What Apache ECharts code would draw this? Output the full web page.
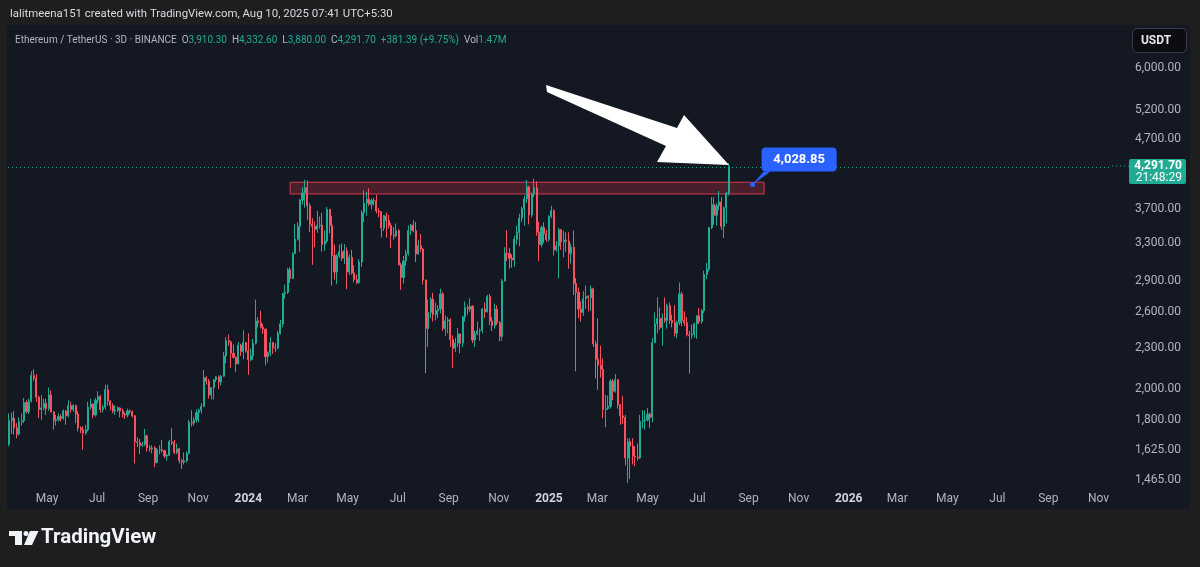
<!DOCTYPE html>
<html><head><meta charset="utf-8">
<script src="https://cdn.jsdelivr.net/npm/echarts@6/dist/echarts.min.js"></script>
<style>html,body{margin:0;padding:0;background:#1e1e1e;}#c{width:1200px;height:567px;}</style>
</head><body><div id="c"></div>
<script>
// ---------- data ----------
const startDate = '2023-03-16';   // first 3D candle
const stepDays = 3;
// [open, high, low, close]
const candles = [
[1655,1840,1645,1795],[1795,1845,1715,1810],[1810,1855,1710,1750],[1750,1780,1690,1715],[1715,1815,1705,1790],
[1790,1840,1765,1795],[1795,1940,1780,1910],[1910,1925,1840,1850],[1850,1935,1835,1920],[1920,2125,1910,2095],
[2095,2140,2055,2075],[2075,2105,1915,1945],[1945,1955,1810,1865],[1865,1960,1800,1875],[1875,1935,1860,1905],
[1905,1935,1830,1870],[1870,2010,1855,1960],[1960,1990,1845,1850],[1850,1855,1740,1795],[1795,1830,1765,1800],
[1800,1840,1790,1820],[1820,1835,1790,1810],[1810,1865,1800,1855],[1855,1860,1770,1825],[1825,1925,1815,1890],
[1890,1915,1845,1865],[1865,1900,1850,1890],[1890,1895,1780,1835],[1835,1855,1730,1750],[1750,1760,1720,1740],
[1740,1760,1625,1720],[1720,1770,1710,1740],[1740,1915,1730,1880],[1880,1935,1865,1900],[1900,1905,1810,1830],
[1830,1940,1820,1925],[1925,1985,1905,1950],[1950,1960,1845,1865],[1865,1895,1845,1880],[1880,2030,1865,1995],
[1995,2030,1890,1920],[1920,1925,1860,1890],[1890,1905,1840,1855],[1855,1890,1830,1860],[1860,1885,1850,1875],
[1875,1880,1815,1855],[1855,1870,1815,1835],[1835,1845,1805,1830],[1830,1870,1815,1855],[1855,1865,1840,1850],
[1850,1860,1815,1825],[1825,1830,1550,1670],[1670,1695,1640,1665],[1665,1685,1600,1650],[1650,1670,1640,1655],
[1655,1745,1645,1705],[1705,1710,1615,1635],[1635,1650,1615,1630],[1630,1650,1605,1635],[1635,1645,1530,1555],
[1555,1635,1550,1625],[1625,1650,1600,1625],[1625,1680,1610,1620],[1620,1625,1580,1590],[1590,1600,1565,1595],
[1595,1680,1590,1670],[1670,1750,1650,1665],[1665,1680,1600,1610],[1610,1660,1600,1630],[1630,1635,1550,1565],
[1565,1575,1521,1558],[1558,1610,1545,1565],[1565,1615,1555,1605],[1605,1800,1600,1785],[1785,1860,1760,1780],
[1780,1815,1765,1800],[1800,1865,1785,1845],[1845,1870,1785,1860],[1860,1905,1840,1885],[1885,2135,1880,2080],
[2080,2090,2030,2055],[2055,2070,1935,1960],[1960,2010,1930,2010],[2010,2070,1930,2065],[2065,2090,2050,2085],
[2085,2095,2000,2050],[2050,2100,2025,2090],[2090,2270,2085,2240],[2240,2390,2185,2360],[2360,2410,2320,2350],
[2350,2360,2150,2260],[2260,2330,2220,2230],[2230,2235,2120,2180],[2180,2350,2175,2325],[2325,2335,2240,2275],
[2275,2445,2215,2345],[2345,2350,2265,2280],[2280,2420,2100,2210],[2210,2295,2200,2240],[2240,2375,2210,2340],
[2340,2717,2330,2525],[2525,2560,2470,2510],[2510,2615,2460,2470],[2470,2500,2415,2455],[2455,2460,2170,2235],
[2235,2275,2190,2265],[2265,2390,2240,2345],[2345,2350,2255,2305],[2305,2340,2270,2300],[2300,2440,2290,2420],
[2420,2535,2410,2500],[2500,2780,2470,2775],[2775,2860,2725,2785],[2785,3030,2770,3010],[3010,3035,2875,2920],
[2920,3195,2915,3180],[3180,3520,3175,3340],[3340,3540,3325,3490],[3490,3830,3200,3820],[3820,3990,3765,3915],
[3915,4093,3720,3985],[3985,4085,3570,3745],[3745,3780,3420,3515],[3515,3590,3060,3490],[3490,3550,3250,3455],
[3455,3680,3415,3500],[3500,3610,3465,3505],[3505,3655,3200,3280],[3280,3440,3210,3320],[3320,3730,3300,3700],
[3700,3700,3410,3505],[3505,3620,2850,3160],[3160,3280,2910,2985],[2985,3175,2865,3155],[3155,3280,3130,3200],
[3200,3290,3100,3130],[3130,3285,3070,3210],[3210,3250,2815,2985],[2985,3170,2955,3140],[3140,3220,2960,2975],
[2975,3055,2880,2910],[2910,2960,2865,2880],[2880,3120,2865,3090],[3090,3690,3040,3660],[3660,3950,3540,3780],
[3780,3930,3620,3830],[3830,3975,3740,3765],[3765,3840,3700,3815],[3815,3850,3750,3810],[3810,3890,3650,3680],
[3680,3715,3600,3670],[3670,3680,3360,3470],[3470,3630,3435,3620],[3620,3660,3360,3560],[3560,3630,3465,3500],
[3500,3530,3240,3390],[3390,3480,3335,3380],[3380,3525,3360,3440],[3440,3460,3050,3060],[3060,3080,2810,2930],
[2930,3155,2870,3100],[3100,3220,3050,3180],[3180,3500,3160,3440],[3440,3520,3390,3505],[3505,3565,3420,3440],
[3440,3545,3090,3175],[3175,3330,3170,3270],[3270,3400,3200,3230],[3230,3240,2860,2905],[2905,2910,2111,2460],
[2460,2720,2310,2600],[2600,2740,2550,2720],[2720,2780,2520,2580],[2580,2690,2530,2615],[2615,2665,2550,2630],
[2630,2820,2590,2770],[2770,2790,2440,2460],[2460,2575,2400,2525],[2525,2560,2420,2535],[2535,2550,2310,2370],
[2370,2405,2150,2300],[2300,2385,2270,2340],[2340,2465,2310,2415],[2415,2420,2260,2340],[2340,2570,2310,2560],
[2560,2700,2520,2645],[2645,2670,2580,2630],[2630,2730,2605,2655],[2655,2665,2340,2365],[2365,2440,2310,2415],
[2415,2520,2405,2440],[2440,2460,2360,2445],[2445,2640,2420,2630],[2630,2690,2550,2605],[2605,2760,2600,2745],
[2745,2770,2490,2525],[2525,2560,2440,2485],[2485,2680,2460,2630],[2630,2665,2490,2510],[2510,2525,2355,2395],
[2395,2915,2360,2895],[2895,3250,2890,3185],[3185,3445,3100,3180],[3180,3240,3020,3130],[3130,3170,3030,3110],
[3110,3380,3040,3340],[3340,3500,3280,3420],[3420,3645,3260,3590],[3590,3735,3540,3710],[3710,3880,3500,3835],
[3835,4090,3780,3995],[3995,4010,3515,3630],[3630,3920,3600,3905],[3905,4110,3860,3985],[3985,4075,3380,3420],
[3420,3545,3100,3280],[3280,3500,3250,3480],[3480,3540,3300,3405],[3405,3450,3310,3335],[3335,3625,3315,3610],
[3610,3745,3590,3685],[3685,3700,3160,3220],[3220,3320,3200,3265],[3265,3475,2920,3450],[3450,3460,3220,3310],
[3310,3440,3140,3330],[3330,3420,3200,3320],[3320,3420,3020,3180],[3180,3290,3075,3250],[3250,3440,2760,2870],
[2870,2925,2125,2785],[2785,2830,2550,2630],[2630,2700,2520,2600],[2600,2795,2570,2725],[2725,2850,2630,2745],
[2745,2760,2610,2735],[2735,2850,2615,2820],[2820,2830,2310,2335],[2335,2360,2075,2215],[2215,2550,1995,2170],
[2170,2320,2080,2140],[2140,2220,1810,1865],[1865,1960,1755,1870],[1870,1955,1860,1885],[1885,2070,1870,2055],
[2055,2070,1925,1985],[1985,2105,1975,2065],[2065,2070,1870,1895],[1895,1900,1770,1825],[1825,1955,1775,1815],
[1815,1830,1540,1580],[1580,1690,1450,1670],[1670,1690,1470,1645],[1645,1690,1545,1590],[1590,1645,1535,1585],
[1585,1660,1565,1580],[1580,1830,1575,1790],[1790,1860,1750,1795],[1795,1860,1740,1800],[1800,1875,1790,1835],
[1835,1845,1750,1815],[1815,2380,1785,2345],[2345,2600,2340,2500],[2500,2740,2420,2545],[2545,2645,2450,2470],
[2470,2590,2320,2550],[2550,2735,2510,2530],[2530,2680,2460,2660],[2660,2690,2500,2530],[2530,2580,2470,2510],
[2510,2665,2395,2420],[2420,2530,2380,2510],[2510,2880,2490,2770],[2770,2790,2480,2530],[2530,2610,2480,2510],
[2510,2560,2395,2410],[2410,2440,2110,2405],[2405,2495,2375,2415],[2415,2510,2385,2500],[2500,2575,2375,2570],
[2570,2640,2500,2520],[2520,2630,2500,2615],[2615,3000,2595,2960],[2960,3080,2915,3015],[3015,3485,2990,3475],
[3475,3860,3460,3760],[3760,3860,3510,3625],[3625,3780,3500,3745],[3745,3940,3690,3795],[3795,3860,3450,3490],
[3490,3735,3355,3720],[3720,3930,3525,3910.3],[3910.3,4332.6,3880,4291.7]
];
const priceTicks = [1465, 1625, 1800, 2000, 2300, 2600, 2900, 3300, 3700, 4700, 5200, 6000];
const priceRange = [1445, 6955];                       // visible price range (log scale)
const dateRange = ['2023-03-14T12:00:00Z', '2026-11-17T12:00:00Z'];
const timeTicks = ['2023-05-01','2023-07-01','2023-09-01','2023-11-01','2024-01-01','2024-03-01','2024-05-01',
  '2024-07-01','2024-09-01','2024-11-01','2025-01-01','2025-03-01','2025-05-01','2025-07-01','2025-09-01',
  '2025-11-01','2026-01-01','2026-03-01','2026-05-01','2026-07-01','2026-09-01','2026-11-01'];
const monthNames = ['Jan','Feb','Mar','Apr','May','Jun','Jul','Aug','Sep','Oct','Nov','Dec'];
const zoneDates = ['2024-02-21', '2025-09-20'];
const zonePrices = [3900, 4060];
const noteDate = '2025-09-06';
const notePrice = 4028.85;
const countdown = '21:48:29';
const headerText = 'lalitmeena151 created with TradingView.com, Aug 10, 2025 07:41 UTC+5:30';
const legendParts = [['g','Ethereum / TetherUS · 3D · BINANCE  '],['g','O'],['v','3,910.30  '],['g','H'],['v','4,332.60  '],
  ['g','L'],['v','3,880.00  '],['g','C'],['v','4,291.70  '],['v','+381.39 (+9.75%)  '],['g','Vol'],['v','1.47M']];

// ---------- chart ----------
const UP = '#22ab94', DOWN = '#f7525f';
const FONT = 'Roboto, "Liberation Sans", sans-serif';
const DAY = 86400000;
const t0 = Date.parse(startDate + 'T00:00:00Z');
const L = Math.log;
const seriesData = candles.map((r, i) => [t0 + i * stepDays * DAY, L(r[0]), L(r[3]), L(r[2]), L(r[1])]);
const lastClose = candles[candles.length - 1][3];
function fmt(n) {
  const s = n.toFixed(2).split('.');
  return s[0].replace(/\B(?=(\d{3})+(?!\d))/g, ',') + '.' + s[1];
}
const d = s => Date.parse(s.length > 10 ? s : s + 'T00:00:00Z');

const chart = echarts.init(document.getElementById('c'), null, { width: 1200, height: 567 });
const option = {
  backgroundColor: '#1e1e1e',
  animation: false,
  grid: { left: 8, right: 88, top: 25, bottom: 83, outerBoundsMode: 'none', containLabel: false },
  xAxis: {
    type: 'value', min: d(dateRange[0]), max: d(dateRange[1]), scale: true,
    axisLine: { show: false }, axisTick: { show: false }, splitLine: { show: false },
    axisLabel: {
      customValues: timeTicks.map(d), hideOverlap: false, margin: 9,
      color: '#b2b5be', fontSize: 12, fontFamily: FONT,
      formatter: v => { const dt = new Date(v); const m = dt.getUTCMonth();
        return m === 0 ? '{y|' + dt.getUTCFullYear() + '}' : '{m|' + monthNames[m] + '}'; },
      rich: { m: { color: '#b2b5be', fontSize: 12, fontFamily: FONT },
              y: { color: '#d1d4dc', fontSize: 12, fontWeight: 'bold', fontFamily: FONT } }
    }
  },
  yAxis: {
    type: 'value', position: 'right', min: L(priceRange[0]), max: L(priceRange[1]), scale: true,
    axisLine: { show: false }, axisTick: { show: false }, splitLine: { show: false },
    axisLabel: { customValues: priceTicks.map(L), formatter: v => fmt(Math.exp(v)),
      align: 'right', margin: 69, color: '#b2b5be', fontSize: 12, fontFamily: FONT }
  },
  series: [{
    type: 'candlestick', data: seriesData, barWidth: 1.6, clip: true,
    itemStyle: { color: UP, color0: DOWN, borderColor: UP, borderColor0: DOWN, borderWidth: 1 },
    markLine: { silent: true, symbol: ['none', 'none'], label: { show: false },
      lineStyle: { color: UP, type: [1, 3], width: 1 }, emphasis: { disabled: true },
      data: [{ yAxis: L(lastClose) }] },
    markArea: { silent: true,
      itemStyle: { color: 'rgba(242,54,69,0.24)', borderColor: '#d23a4c', borderWidth: 1 },
      data: [[{ coord: [d(zoneDates[0]), L(zonePrices[1])] }, { coord: [d(zoneDates[1]), L(zonePrices[0])] }]] }
  }]
};
chart.setOption(option);

const yLast = chart.convertToPixel({ yAxisIndex: 0 }, L(lastClose));
const dot = chart.convertToPixel({ gridIndex: 0 }, [d(noteDate), L(notePrice)]);
const boxL = dot[0] + 9, boxB = dot[1] - 13, boxW = 75, boxH = 24;
const rich = { g: { fill: '#b2b5be', font: '10px ' + FONT }, v: { fill: UP, font: '10px ' + FONT } };
const legendText = legendParts.map(p => '{' + p[0] + '|' + p[1] + '}').join('');

chart.setOption({ graphic: [
  { type: 'rect', z: -5, shape: { x: 7, y: 25, width: 1183, height: 484 }, style: { fill: '#141823' } },
  { type: 'text', z: 10, x: 10, y: 14, style: { text: headerText, fill: '#d9dce3', font: '11.4px ' + FONT, textVerticalAlign: 'middle' } },
  { type: 'text', z: 10, x: 15, y: 40, style: { text: legendText, rich: rich, font: '10px ' + FONT, textVerticalAlign: 'middle' } },
  { type: 'line', z: 10, shape: { x1: 1112, y1: yLast, x2: 1129, y2: yLast }, style: { stroke: UP, lineWidth: 1, lineDash: [1, 3] } },
  { type: 'rect', z: 10, shape: { x: 1132.5, y: 28.5, width: 54, height: 24, r: 5 }, style: { fill: '#0c0d10', stroke: '#3a3d45', lineWidth: 1 } },
  { type: 'text', z: 11, x: 1156, y: 41, style: { text: 'USDT', fill: '#e6e8ee', font: 'bold 12px ' + FONT, textAlign: 'center', textVerticalAlign: 'middle' } },
  // current price label
  { type: 'rect', z: 10, shape: { x: 1129, y: yLast - 7, width: 57, height: 25, r: 2 }, style: { fill: UP } },
  { type: 'text', z: 11, x: 1182, y: yLast, style: { text: fmt(lastClose), fill: '#ffffff', font: 'bold 12px ' + FONT, textAlign: 'right', textVerticalAlign: 'middle' } },
  { type: 'text', z: 11, x: 1182, y: yLast + 12, style: { text: countdown, fill: '#ffffff', font: '12px ' + FONT, textAlign: 'right', textVerticalAlign: 'middle' } },
  // price note callout
  { type: 'polygon', z: 20, shape: { points: [[dot[0], dot[1]], [boxL + 2, boxB], [boxL + 9, boxB]] }, style: { fill: '#2962ff' } },
  { type: 'circle', z: 21, shape: { cx: dot[0], cy: dot[1], r: 2.5 }, style: { fill: '#2962ff' } },
  { type: 'rect', z: 20, shape: { x: boxL, y: boxB - boxH, width: boxW, height: boxH, r: 4 }, style: { fill: '#2962ff' } },
  { type: 'text', z: 21, x: boxL + boxW / 2, y: boxB - boxH / 2, style: { text: fmt(notePrice), fill: '#ffffff', font: 'bold 13px ' + FONT, textAlign: 'center', textVerticalAlign: 'middle' } },
  // hand drawn arrow
  { type: 'polygon', z: 20, shape: { points: [[546, 85], [677, 128], [684, 115], [729, 165], [657, 162], [666, 146], [547, 92]] }, style: { fill: '#ffffff' } },
  // TradingView logo
  { type: 'rect', z: 10, shape: { x: 9, y: 531, width: 13, height: 5 }, style: { fill: '#f0f3fa' } },
  { type: 'rect', z: 10, shape: { x: 15, y: 531, width: 7, height: 14 }, style: { fill: '#f0f3fa' } },
  { type: 'circle', z: 10, shape: { cx: 26, cy: 533.5, r: 2.5 }, style: { fill: '#f0f3fa' } },
  { type: 'polygon', z: 10, shape: { points: [[30, 531], [38.5, 531], [32, 545], [24, 545]] }, style: { fill: '#f0f3fa' } },
  { type: 'text', z: 10, x: 41, y: 538, style: { text: 'TradingView', fill: '#f0f3fa', font: 'bold 20.5px ' + FONT, textVerticalAlign: 'middle' } }
]});
</script>
</body></html>
